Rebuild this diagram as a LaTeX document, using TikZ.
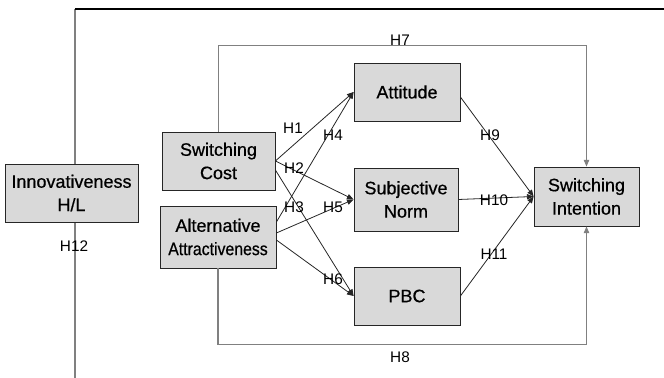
\documentclass[tikz,border=0pt]{standalone}
\usepackage{fontspec}
\setmainfont{Liberation Sans}
\newfontfamily\boxfont{Liberation Sans}[FakeBold=0.6]
\usepackage{graphicx}
\usetikzlibrary{arrows.meta,shadows,calc,backgrounds}

\tikzset{
  factor/.style={draw=black!85, fill=black!15, line width=0.6pt, align=center,
    inner sep=0pt, font=\boxfont\fontsize{13.5}{17.5}\selectfont,
    drop shadow={shadow xshift=1pt, shadow yshift=-1pt, fill=black!65, opacity=1}},
  hyp/.style={draw=black!85, line width=0.6pt, -{Triangle[length=5pt,width=4pt]}},
  moder/.style={draw=black!50, line width=0.8pt},
  lbl/.style={font=\fontsize{11.5}{13}\selectfont, inner sep=0pt},
}

\begin{document}
\begin{tikzpicture}[x=0.75pt,y=0.75pt,yscale=-1,xscale=1]
    \useasboundingbox (0,0) rectangle (664,378);
    % factors
    \node[factor, minimum width=99.75pt, minimum height=43.5pt] (inn) at (71.5,193) {Innovativeness\\H/L};
    \node[factor, minimum width=84.75pt, minimum height=43.5pt] (sc) at (218.5,161) {Switching\\Cost};
    \node[factor, minimum width=87pt, minimum height=46.5pt] (aa) at (218,237) {Alternative\\\scalebox{0.88}[1]{Attractiveness}};
    \node[factor, minimum width=79.5pt, minimum height=43.5pt] (att) at (407,92) {Attitude};
    \node[factor, minimum width=78pt, minimum height=47.25pt] (sn) at (406,199.5) {Subjective\\Norm};
    \node[factor, minimum width=79.5pt, minimum height=43.5pt] (pbc) at (407,296) {PBC};
    \node[factor, minimum width=78.75pt, minimum height=44.25pt] (si) at (586.5,196.5) {Switching\\Intention};
    % moderator frame, kept behind the boxes
    \coordinate (ctop) at (75,9);
    \coordinate (cbot) at (75,378);
    \draw[line width=0.8pt] (ctop) -- (664,9);
    \begin{scope}[on background layer]
      \draw[moder] (ctop) -- (cbot);
    \end{scope}
    % direct paths
    \draw[moder,-{Triangle[length=5pt,width=4pt]}] (sc.north) -- ++(0,-86) -| (si.north);
    \draw[moder,-{Triangle[length=5pt,width=4pt]}] (aa.south) -- ++(0,76) -| (si.south);
    % antecedents
    \draw[hyp] (sc.east) -- (att.west);
    \draw[hyp] (sc.east) -- (sn.west);
    \draw[hyp] ($(sc.east)+(0,9)$) -- (pbc.west);
    \draw[hyp] ($(aa.east)+(0,-15)$) -- (att.west);
    \draw[hyp] ($(aa.east)+(0,-4)$) -- (sn.west);
    \draw[hyp] ($(aa.east)+(0,3)$) -- (pbc.west);
    \draw[hyp] ($(att.east)+(0,5)$) -- (si.west);
    \draw[hyp] (sn.east) -- (si.west);
    \draw[hyp] (pbc.east) -- (si.west);
    % hypothesis labels
    \node[lbl] (h1) at (293,128) {H1};
    \node[lbl] (h2) at (294,168) {H2};
    \node[lbl] (h3) at (294,207) {H3};
    \node[lbl] (h4) at (333,135) {H4};
    \node[lbl] (h5) at (333,207) {H5};
    \node[lbl] (h6) at (333,279) {H6};
    \node[lbl] (h7) at (400,40) {H7};
    \node[lbl] (h8) at (400,357) {H8};
    \node[lbl] (h9) at (490,135) {H9};
    \node[lbl] (h10) at (494,200) {H10};
    \node[lbl] (h11) at (494,254) {H11};
    \node[lbl] (h12) at (74,246) {H12};
\end{tikzpicture}
\end{document}
